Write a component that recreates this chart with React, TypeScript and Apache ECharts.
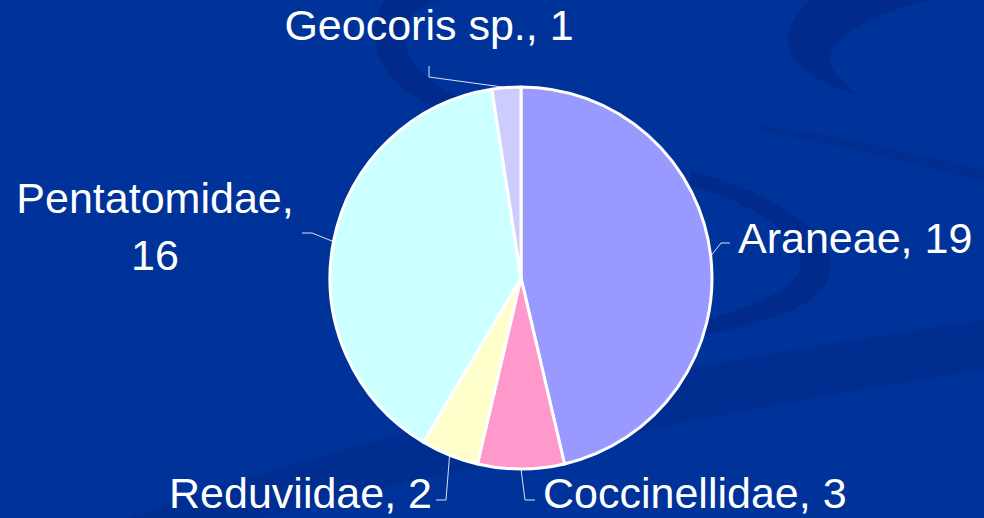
import React, { useEffect, useRef } from "react";
import * as echarts from "echarts";

const categories = ["Araneae", "Coccinellidae", "Reduviidae", "Pentatomidae", "Geocoris sp."];
const values = [19, 3, 2, 16, 1];
const sliceColors = ["#9999FF", "#FF99CC", "#FFFFCC", "#CCFFFF", "#CCCCFF"];

// label placement (layout only)
const labelPlacement = [
  { x: 738, y: 238, align: "left", line: [[721, 243], [730, 243]] },
  { x: 543, y: 493, align: "left", line: [[525, 500], [535, 500]] },
  { x: 432, y: 493, align: "right", line: [[446, 500], [436, 500]] },
  { x: 155, y: 226, align: "center", line: [[312, 233], [302, 233]] },
  { x: 429, y: 25, align: "center", line: [[429, 77], [429, 66]] },
];

const swirlTopLeft = "M 385 0 C 360 40 380 85 440 110 C 470 122 495 120 505 112 C 450 100 400 70 405 30 C 408 15 420 5 440 0 Z";
const swirlTopRight = "M 812 0 C 790 15 780 40 795 60 C 810 78 835 88 858 95 C 840 80 825 65 832 50 C 845 30 880 12 930 0 Z";
const swirlMidRight = "M 690 170 C 760 190 820 220 830 260 C 838 300 780 320 705 335 L 705 320 C 770 300 805 285 800 258 C 790 225 740 200 690 185 Z";
const bandLow = "M 130 518 C 400 420 700 360 984 320 L 984 370 C 720 410 450 470 260 518 Z";
const thinLine = "M 760 125 C 840 135 920 155 984 170 L 984 182 C 920 165 840 145 760 131 Z";

echarts.graphic.registerShape("swirlA", echarts.graphic.extendPath(swirlTopLeft, {}));
echarts.graphic.registerShape("swirlB", echarts.graphic.extendPath(swirlTopRight, {}));
echarts.graphic.registerShape("swirlC", echarts.graphic.extendPath(swirlMidRight, {}));
echarts.graphic.registerShape("swirlD", echarts.graphic.extendPath(bandLow, {}));
echarts.graphic.registerShape("swirlE", echarts.graphic.extendPath(thinLine, {}));

export default function App() {
  const ref = useRef<HTMLDivElement>(null);
  useEffect(() => {
    if (!ref.current) return;
    const chart = echarts.init(ref.current, undefined, { renderer: "svg" });
    const shade = "rgba(0, 20, 100, 0.22)";
    chart.setOption({
      animation: false,
      backgroundColor: "#003399",
      graphic: [
        { type: "swirlA", x: 0, y: 0, z: -10, silent: true, style: { fill: shade } },
        { type: "swirlB", x: 0, y: 0, z: -10, silent: true, style: { fill: shade } },
        { type: "swirlC", x: 0, y: 0, z: -10, silent: true, style: { fill: shade } },
        { type: "swirlD", x: 0, y: 0, z: -10, silent: true, style: { fill: "rgba(0, 20, 100, 0.16)" } },
        { type: "swirlE", x: 0, y: 0, z: -10, silent: true, style: { fill: "rgba(0, 20, 100, 0.14)" } },
      ],
      series: [
        {
          type: "pie",
          center: [521, 278],
          radius: 191,
          startAngle: 90,
          clockwise: true,
          silent: true,
          emphasis: { disabled: true },
          itemStyle: { borderColor: "#ffffff", borderWidth: 3 },
          label: {
            show: true,
            position: "outside",
            color: "#ffffff",
            fontFamily: "'Liberation Sans', Arial, sans-serif",
            fontSize: 43,
            lineHeight: 57,
            formatter: (p: any) =>
              p.dataIndex === 3 ? `${p.name},\n${p.value}` : `${p.name}, ${p.value}`,
          },
          labelLine: {
            show: true,
            length: 10,
            length2: 10,
            lineStyle: { color: "#dde0f0", width: 1 },
          },
          labelLayout: (params: any) => {
            const lp = labelPlacement[params.dataIndex];
            const start = params.labelLinePoints ? params.labelLinePoints[0] : lp.line[0];
            return {
              x: lp.x,
              y: lp.y,
              align: lp.align,
              verticalAlign: "middle",
              labelLinePoints: [start, lp.line[0], lp.line[1]],
            };
          },
          data: categories.map((name, i) => ({
            name,
            value: values[i],
            itemStyle: { color: sliceColors[i] },
          })),
        },
      ],
    });
    return () => chart.dispose();
  }, []);
  return (
    <div
      ref={ref}
      style={{ position: "absolute", left: 0, top: 0, width: 984, height: 518 }}
    />
  );
}
